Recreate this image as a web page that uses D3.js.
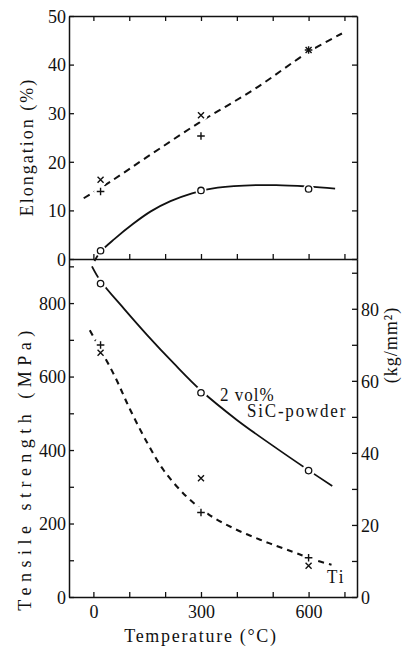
<!DOCTYPE html>
<html><head><meta charset="utf-8">
<script src="https://cdn.jsdelivr.net/npm/d3@7"></script>
<style>
html,body{margin:0;padding:0;background:#fff;}
svg{display:block;}
</style></head>
<body>
<svg id="c" width="406" height="646" font-family="Liberation Serif"></svg>
<script>
// ---- data ----
const temps = [20, 300, 600];
const elongTiX = [16.3, 29.6, 43.0];
const elongTiPlus = [13.9, 25.3, 43.0];
const elongSiC = [1.7, 14.1, 14.4];
const tensileSiC = [853, 556, 344];
const tensileTiX = [665, 323, 85];
const tensileTiPlus = [686, 230, 107];

// hand-drawn fit curves
const elongTiCurveT = [-27, 47, 150, 300, 450, 600, 693];
const elongTiCurveV = [12.5, 15.9, 21.0, 28.3, 35.0, 42.6, 46.4];
const elongSiCCurveT = [3, 20, 60, 110, 160, 215, 275, 330, 420, 510, 600, 674];
const elongSiCCurveV = [-0.4, 1.5, 4.2, 7.2, 9.8, 11.9, 13.5, 14.5, 15.1, 15.2, 14.9, 14.5];
const tensSiCCurveT = [-4, 20, 85, 150, 225, 300, 400, 500, 600, 666];
const tensSiCCurveV = [900, 860, 785, 713, 635, 562, 482, 412, 345, 302];
const tensTiCurveT = [-10, 57, 103, 150, 196, 258, 321, 391, 465, 539, 627, 664];
const tensTiCurveV = [726, 606, 509, 420, 345, 275, 225, 187, 156, 129, 98, 88];

const xTicks = [0, 100, 200, 300, 400, 500, 600, 700];
const xTickLabels = [0, 300, 600];
const elongTicks = [0, 10, 20, 30, 40, 50];
const mpaTicks = [0, 100, 200, 300, 400, 500, 600, 700, 800, 900];
const mpaTickLabels = [0, 200, 400, 600, 800];
const kgTicks = [0, 10, 20, 30, 40, 50, 60, 70, 80, 90];
const kgTickLabels = [0, 20, 40, 60, 80];

// ---- layout ----
const L = 69, R = 357, T = 16, MID = 259, B = 597;
const FONT = 'Liberation Serif';
const svg = d3.select('#c');
const x = d3.scaleLinear().domain([-68, 735]).range([L, R]);
const yE = d3.scaleLinear().domain([0, 50]).range([MID, T]);
const yM = d3.scaleLinear().domain([0, 920]).range([B, MID]);
const yK = d3.scaleLinear().domain([0, 920 / 9.80665]).range([B, MID]);

const FS = 18;
function styleAxis(g) {
  g.attr('font-family', FONT).attr('font-size', FS);
  g.select('.domain').attr('stroke', '#111').attr('stroke-width', 1.5);
  g.selectAll('.tick line').attr('stroke', '#111').attr('stroke-width', 1.3);
  g.selectAll('.tick text').attr('font-family', FONT).attr('font-size', FS)
    .attr('fill', '#111').attr('transform', 'scale(1,1.1)');
}
const fmt = arr => d => arr.includes(d) ? String(d) : '';

// top panel
svg.append('g').attr('transform', `translate(${L},0)`)
  .call(d3.axisLeft(yE).tickValues(elongTicks).tickSizeInner(-5).tickSizeOuter(0).tickPadding(3))
  .call(styleAxis);
svg.append('g').attr('transform', `translate(${R},0)`)
  .call(d3.axisRight(yE).tickValues(elongTicks).tickSizeInner(-5).tickSizeOuter(0).tickFormat(''))
  .call(styleAxis);
svg.append('g').attr('transform', `translate(0,${T})`)
  .call(d3.axisTop(x).tickValues(xTicks).tickSizeInner(-5).tickSizeOuter(0).tickFormat(''))
  .call(styleAxis);
svg.append('g').attr('transform', `translate(0,${MID})`)
  .call(d3.axisBottom(x).tickValues(xTicks).tickSizeInner(-5).tickSizeOuter(0).tickFormat(''))
  .call(styleAxis);

// bottom panel
svg.append('g').attr('transform', `translate(${L},0)`)
  .call(d3.axisLeft(yM).tickValues(mpaTicks).tickSizeInner(-5).tickSizeOuter(0).tickPadding(3).tickFormat(fmt(mpaTickLabels)))
  .call(styleAxis);
svg.append('g').attr('transform', `translate(${R},0)`)
  .call(d3.axisRight(yK).tickValues(kgTicks).tickSizeInner(-5).tickSizeOuter(0).tickPadding(4).tickFormat(fmt(kgTickLabels)))
  .call(styleAxis);
svg.append('g').attr('transform', `translate(0,${B})`)
  .call(d3.axisBottom(x).tickValues(xTicks).tickSizeInner(-5).tickSizeOuter(0).tickPadding(6).tickFormat(fmt(xTickLabels)))
  .call(styleAxis);

// ---- curves ----
const clip = svg.append('clipPath').attr('id', 'clipAll');
clip.append('rect').attr('x', L).attr('y', T).attr('width', R - L).attr('height', B - T);
function curve(ts, vs, ys, opts) {
  const pts = ts.map((t, i) => [x(t), ys(vs[i])]);
  svg.append('path').attr('d', d3.line().curve(d3.curveCatmullRom.alpha(0.5))(pts))
    .attr('fill', 'none').attr('stroke', '#111').attr('stroke-width', opts.w)
    .attr('stroke-dasharray', opts.dash || null).attr('stroke-linecap', 'butt');
}
curve(elongTiCurveT, elongTiCurveV, yE, {w: 2, dash: '7,5'});
curve(elongSiCCurveT, elongSiCCurveV, yE, {w: 1.8});
curve(tensSiCCurveT, tensSiCCurveV, yM, {w: 1.8});
curve(tensTiCurveT, tensTiCurveV, yM, {w: 2.1, dash: '6,5'});

// ---- markers (white halo gives the gaps in the lines) ----
function halo(px, py, r) {
  svg.append('circle').attr('cx', px).attr('cy', py).attr('r', r).attr('fill', '#fff');
}
function circ(px, py) {
  svg.append('circle').attr('cx', px).attr('cy', py).attr('r', 3.2)
    .attr('fill', '#fff').attr('stroke', '#111').attr('stroke-width', 1.3);
}
function cross(px, py) {
  const s = 3;
  svg.append('path').attr('d', `M${px-s},${py-s}L${px+s},${py+s}M${px-s},${py+s}L${px+s},${py-s}`)
    .attr('stroke', '#111').attr('stroke-width', 1.4);
}
function plus(px, py) {
  const s = 3.8;
  svg.append('path').attr('d', `M${px-s},${py}L${px+s},${py}M${px},${py-s}L${px},${py+s}`)
    .attr('stroke', '#111').attr('stroke-width', 1.4);
}
const haloR = 6.5;
temps.forEach((t, i) => {
  halo(x(t), yE(elongTiX[i]), haloR); halo(x(t), yE(elongTiPlus[i]), haloR);
  halo(x(t), yE(elongSiC[i]), 5.5);
  halo(x(t), yM(tensileSiC[i]), haloR);
  halo(x(t), yM(tensileTiX[i]), haloR); halo(x(t), yM(tensileTiPlus[i]), haloR);
});
temps.forEach((t, i) => {
  cross(x(t), yE(elongTiX[i])); plus(x(t), yE(elongTiPlus[i]));
  circ(x(t), yE(elongSiC[i]));
  circ(x(t), yM(tensileSiC[i]));
  cross(x(t), yM(tensileTiX[i])); plus(x(t), yM(tensileTiPlus[i]));
});

// ---- texts ----
function txt(px, py, s, o) {
  o = o || {};
  svg.append('text')
    .attr('transform', `translate(${px},${py}) rotate(${o.rot || 0}) scale(1,${o.sy || 1.1})`)
    .attr('text-anchor', o.anchor || 'start')
    .attr('font-family', FONT)
    .attr('font-size', o.size || 18)
    .attr('letter-spacing', o.ls || 0)
    .attr('fill', '#111')
    .text(s);
}
txt(33, 147, 'Elongation (%)', {rot: -90, anchor: 'middle', ls: 2});
txt(31, 468, 'Tensile strength (MPa)', {rot: -90, anchor: 'middle', ls: 5.5});
txt(397, 345, '(kg/mm²)', {rot: -90, anchor: 'middle', ls: 1});
txt(201, 642, 'Temperature (°C)', {anchor: 'middle', ls: 1.7});
txt(220, 401, '2 vol%', {size: 17, ls: 1});
txt(247, 417, 'SiC-powder', {size: 17, ls: 1.8});
txt(327, 583, 'Ti', {size: 17, ls: 2});
</script>
</body></html>
